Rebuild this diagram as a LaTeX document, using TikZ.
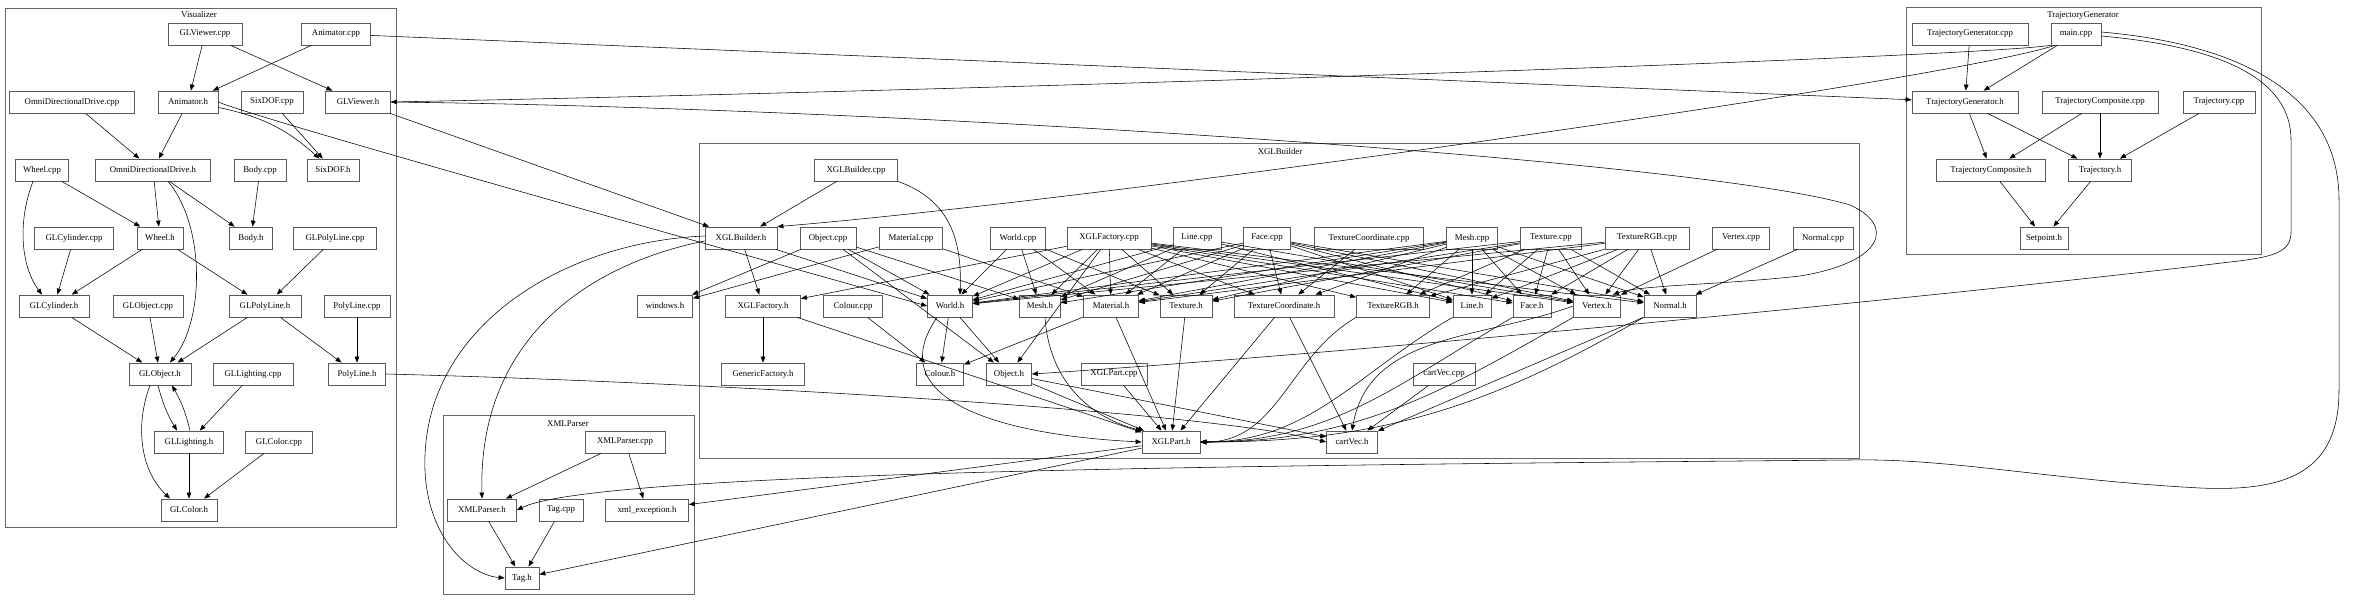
\documentclass[tikz,border=0pt]{standalone}
\usepackage{fontspec}
\setmainfont{Liberation Serif}
\usetikzlibrary{arrows.meta}
\tikzset{
  file/.style={draw=black!65,line width=0.8pt,inner sep=0pt,minimum height=22pt,font=\fontsize{8.8}{10}\selectfont}, % one source file
  dep/.style={-{Triangle[length=6pt,width=4.6pt]},line width=0.55pt,black},                          % include
  grp/.style={draw=black!60,line width=0.8pt},                                                    % directory
  grplabel/.style={font=\fontsize{8.8}{10}\selectfont},
}
\begin{document}
\begin{tikzpicture}[x=1pt,y=-1pt]
  \useasboundingbox (0,0) rectangle (2354,605);
  % directories
  \draw[grp] (5,8) rectangle (396,527);
  \node[grplabel] (vislbl) at (199,15) {Visualizer};
  \draw[grp] (443,415) rectangle (694,594);
  \node[grplabel] (xmllbl) at (568,424) {XMLParser};
  \draw[grp] (699,143) rectangle (1859,458);
  \node[grplabel] (xgllbl) at (1280,151) {XGLBuilder};
  \draw[grp] (1906,7) rectangle (2261,254);
  \node[grplabel] (trjlbl) at (2083,16) {TrajectoryGenerator};

  % Visualizer
  \node[file,minimum width=74pt] (glvcpp) at (205,34) {GLViewer.cpp};
  \node[file,minimum width=69pt] (anicpp) at (336,34) {Animator.cpp};
  \node[file,minimum width=125pt] (oddcpp) at (72,102) {OmniDirectionalDrive.cpp};
  \node[file,minimum width=60pt] (anih) at (188,102) {Animator.h};
  \node[file,minimum width=62pt] (sixcpp) at (272,102) {SixDOF.cpp};
  \node[file,minimum width=65pt] (glvh) at (358,102) {GLViewer.h};
  \node[file,minimum width=53pt] (wheelcpp) at (42,170) {Wheel.cpp};
  \node[file,minimum width=115pt] (oddh) at (153,170) {OmniDirectionalDrive.h};
  \node[file,minimum width=52pt] (bodycpp) at (260,170) {Body.cpp};
  \node[file,minimum width=52pt] (sixh) at (333,170) {SixDOF.h};
  \node[file,minimum width=79pt] (glcylcpp) at (74,238) {GLCylinder.cpp};
  \node[file,minimum width=46pt] (wheelh) at (160,238) {Wheel.h};
  \node[file,minimum width=43pt] (bodyh) at (251,238) {Body.h};
  \node[file,minimum width=83pt] (glplcpp) at (335,238) {GLPolyLine.cpp};
  \node[file,minimum width=70pt] (glcylh) at (54,306) {GLCylinder.h};
  \node[file,minimum width=70pt] (globjcpp) at (148,306) {GLObject.cpp};
  \node[file,minimum width=72pt] (glplh) at (265,306) {GLPolyLine.h};
  \node[file,minimum width=66pt] (plcpp) at (357,306) {PolyLine.cpp};
  \node[file,minimum width=62pt] (globjh) at (160,374) {GLObject.h};
  \node[file,minimum width=80pt] (gllightcpp) at (253,374) {GLLighting.cpp};
  \node[file,minimum width=57pt] (plh) at (357,374) {PolyLine.h};
  \node[file,minimum width=69pt] (gllighth) at (189,442) {GLLighting.h};
  \node[file,minimum width=67pt] (glcolcpp) at (279,442) {GLColor.cpp};
  \node[file,minimum width=56pt] (glcolh) at (189,510) {GLColor.h};

  % XMLParser
  \node[file,minimum width=80pt] (xmlpcpp) at (625,442) {XMLParser.cpp};
  \node[file,minimum width=69pt] (xmlph) at (482,510) {XMLParser.h};
  \node[file,minimum width=44pt] (tagcpp) at (561,510) {Tag.cpp};
  \node[file,minimum width=83pt] (xmlexch) at (647,510) {xml\_exception.h};
  \node[file,minimum width=34pt] (tagh) at (522,578) {Tag.h};

  % XGLBuilder
  \node[file,minimum width=83pt] (xglbcpp) at (856,170) {XGLBuilder.cpp};
  \node[file,minimum width=72pt] (xglbh) at (741,238) {XGLBuilder.h};
  \node[file,minimum width=56pt] (objcpp) at (828,238) {Object.cpp};
  \node[file,minimum width=63pt] (matcpp) at (911,238) {Material.cpp};
  \node[file,minimum width=55pt] (worldcpp) at (1018,238) {World.cpp};
  \node[file,minimum width=84pt] (xglfcpp) at (1109,238) {XGLFactory.cpp};
  \node[file,minimum width=48pt] (linecpp) at (1197,238) {Line.cpp};
  \node[file,minimum width=47pt] (facecpp) at (1267,238) {Face.cpp};
  \node[file,minimum width=109pt] (tccpp) at (1369,238) {TextureCoordinate.cpp};
  \node[file,minimum width=51pt] (meshcpp) at (1472,238) {Mesh.cpp};
  \node[file,minimum width=61pt] (texcpp) at (1551,238) {Texture.cpp};
  \node[file,minimum width=84pt] (trgbcpp) at (1647,238) {TextureRGB.cpp};
  \node[file,minimum width=57pt] (vertcpp) at (1741,238) {Vertex.cpp};
  \node[file,minimum width=60pt] (normcpp) at (1823,238) {Normal.cpp};
  \node[file,minimum width=55pt] (windowsh) at (665,306) {windows.h};
  \node[file,minimum width=75pt] (xglfh) at (763,306) {XGLFactory.h};
  \node[file,minimum width=59pt] (colcpp) at (853,306) {Colour.cpp};
  \node[file,minimum width=45pt] (worldh) at (950,306) {World.h};
  \node[file,minimum width=41pt] (meshh) at (1040,306) {Mesh.h};
  \node[file,minimum width=55pt] (math) at (1111,306) {Material.h};
  \node[file,minimum width=52pt] (texh) at (1186,306) {Texture.h};
  \node[file,minimum width=100pt] (tcoordh) at (1284,306) {TextureCoordinate.h};
  \node[file,minimum width=73pt] (trgbh) at (1393,306) {TextureRGB.h};
  \node[file,minimum width=38pt] (lineh) at (1472,306) {Line.h};
  \node[file,minimum width=38pt] (faceh) at (1532,306) {Face.h};
  \node[file,minimum width=47pt] (verth) at (1597,306) {Vertex.h};
  \node[file,minimum width=52pt] (normh) at (1670,306) {Normal.h};
  \node[file,minimum width=83pt] (genfh) at (763,374) {GenericFactory.h};
  \node[file,minimum width=47pt] (colh) at (940,374) {Colour.h};
  \node[file,minimum width=45pt] (objh) at (1009,374) {Object.h};
  \node[file,minimum width=66pt] (xglpcpp) at (1114,374) {XGLPart.cpp};
  \node[file,minimum width=62pt] (cvcpp) at (1444,374) {cartVec.cpp};
  \node[file,minimum width=58pt] (xglph) at (1171,442) {XGLPart.h};
  \node[file,minimum width=51pt] (cvh) at (1352,442) {cartVec.h};

  % TrajectoryGenerator
  \node[file,minimum width=116pt] (tgcpp) at (1970,34) {TrajectoryGenerator.cpp};
  \node[file,minimum width=50pt] (mainc) at (2076,34) {main.cpp};
  \node[file,minimum width=106pt] (tgh) at (1965,102) {TrajectoryGenerator.h};
  \node[file,minimum width=116pt] (trajcompcpp) at (2100,102) {TrajectoryComposite.cpp};
  \node[file,minimum width=72pt] (trajcpp) at (2219,102) {Trajectory.cpp};
  \node[file,minimum width=109pt] (trajcomph) at (1991,170) {TrajectoryComposite.h};
  \node[file,minimum width=63pt] (trajh) at (2100,170) {Trajectory.h};
  \node[file,minimum width=48pt] (setph) at (2044,238) {Setpoint.h};

  % includes inside Visualizer
  \draw[dep] (glvcpp) -- (anih);
  \draw[dep] (glvcpp) -- (glvh);
  \draw[dep] (anicpp) -- (anih);
  \draw[dep] (oddcpp) -- (oddh);
  \draw[dep] (anih) -- (oddh);
  \draw[dep] (anih) to[bend left=15] (sixh);
  \draw[dep] (sixcpp) -- (sixh);
  \draw[dep] (wheelcpp) -- (wheelh);
  \draw[dep] ([xshift=-9pt]wheelcpp.south) .. controls (18,220) and (20,265) .. ([xshift=-12pt]glcylh.north);
  \draw[dep] (oddh) -- (wheelh);
  \draw[dep] (oddh) -- (bodyh);
  \draw[dep] ([xshift=15pt]oddh.south) .. controls (205,225) and (205,320) .. ([xshift=10pt]globjh.north);
  \draw[dep] (bodycpp) -- (bodyh);
  \draw[dep] (glcylcpp) -- (glcylh);
  \draw[dep] (wheelh) -- (glcylh);
  \draw[dep] (wheelh) -- (glplh);
  \draw[dep] (glplcpp) -- (glplh);
  \draw[dep] (glcylh) -- (globjh);
  \draw[dep] (globjcpp) -- (globjh);
  \draw[dep] (glplh) -- (globjh);
  \draw[dep] (glplh) -- (plh);
  \draw[dep] (plcpp) -- (plh);
  \draw[dep] ([xshift=-2pt]globjh.south) to[bend right=8] ([xshift=-12pt]gllighth.north);
  \draw[dep] ([xshift=1pt]gllighth.north) to[bend right=8] ([xshift=12pt]globjh.south);
  \draw[dep] ([xshift=-10pt]globjh.south) .. controls (135,425) and (140,470) .. ([xshift=-19pt]glcolh.north);
  \draw[dep] (gllightcpp) -- (gllighth);
  \draw[dep] (gllighth) -- (glcolh);
  \draw[dep] (glcolcpp) -- (glcolh);

  % includes inside XMLParser
  \draw[dep] (xmlpcpp) -- (xmlph);
  \draw[dep] (xmlpcpp) -- (xmlexch);
  \draw[dep] (xmlph) -- (tagh);
  \draw[dep] (tagcpp) -- (tagh);

  % includes inside TrajectoryGenerator
  \draw[dep] (tgcpp) -- (tgh);
  \draw[dep] (mainc) -- (tgh);
  \draw[dep] (tgh) -- (trajcomph);
  \draw[dep] (tgh) -- (trajh);
  \draw[dep] (trajcompcpp) -- (trajcomph);
  \draw[dep] (trajcompcpp) -- (trajh);
  \draw[dep] (trajcpp) -- (trajh);
  \draw[dep] (trajcomph) -- (setph);
  \draw[dep] (trajh) -- (setph);

  % includes inside XGLBuilder
  \draw[dep] (xglbcpp) -- (xglbh);
  \draw[dep] (xglbcpp.south east) .. controls (950,200) and (962,240) .. ([xshift=10pt]worldh.north);
  \draw[dep] (xglbh) -- (xglfh);
  \draw[dep] (xglbh) -- (worldh);
  \foreach \t in {objh,worldh,meshh,windowsh}
    \draw[dep] (objcpp) -- (\t);
  \foreach \t in {math,windowsh}
    \draw[dep] (matcpp) -- (\t);
  \foreach \t in {worldh,meshh,math,texh}
    \draw[dep] (worldcpp) -- (\t);
  \foreach \t in {xglfh,worldh,meshh,math,texh,tcoordh,trgbh,lineh,faceh,verth,normh,objh}
    \draw[dep] (xglfcpp) -- (\t);
  \foreach \t in {lineh,worldh,meshh,math,verth}
    \draw[dep] (linecpp) -- (\t);
  \foreach \t in {faceh,worldh,meshh,math,texh,tcoordh,verth,normh,lineh}
    \draw[dep] (facecpp) -- (\t);
  \draw[dep] (tccpp) -- (tcoordh);
  \foreach \t in {meshh,worldh,math,texh,trgbh,lineh,faceh,verth,normh,tcoordh}
    \draw[dep] (meshcpp) -- (\t);
  \foreach \t in {texh,worldh,math,trgbh,lineh,faceh,verth,normh}
    \draw[dep] (texcpp) -- (\t);
  \foreach \t in {trgbh,worldh,math,lineh,faceh,verth,normh}
    \draw[dep] (trgbcpp) -- (\t);
  \draw[dep] (vertcpp) -- (verth);
  \draw[dep] (normcpp) -- (normh);
  \draw[dep] (colcpp) -- (colh);
  \draw[dep] (xglpcpp) -- (xglph);
  \draw[dep] (cvcpp) -- (cvh);
  \draw[dep] (worldh) -- (colh);
  \draw[dep] (worldh) -- (objh);
  \draw[dep] ([xshift=-13pt]worldh.south) .. controls (880,400) and (1000,435) .. (xglph.west);
  \draw[dep] (math) -- (colh);
  \draw[dep] (math) -- (xglph);
  \draw[dep] ([xshift=5pt]meshh.south) .. controls (1050,390) and (1100,420) .. (xglph.north west);
  \draw[dep] (objh) -- (xglph);
  \draw[dep] (objh) -- (cvh);
  \draw[dep] (xglfh) -- (genfh);
  \draw[dep] (xglfh) -- (xglph);
  \draw[dep] (texh) -- (xglph);
  \draw[dep] (tcoordh) -- (xglph);
  \draw[dep] (tcoordh) -- (cvh);
  \foreach \s in {trgbh,lineh,faceh,verth,normh}
    \draw[dep] (\s.south west) to[out=-150,in=0] (xglph.east);
  \draw[dep] (verth.west) to[out=200,in=80] (cvh.north);
  \draw[dep] (normh) -- (cvh);

  % includes across directories
  \draw[dep] (anicpp) -- (tgh);
  \draw[dep] (mainc.south west) .. controls (1960,58) and (1000,90) .. (glvh.east);
  \draw[dep] ([xshift=4pt]mainc.south west) .. controls (1950,80) and (1100,200) .. (xglbh.north east);
  \draw[dep] (glvh) -- (xglbh);
  \draw[dep] (anih.east) .. controls (260,120) and (800,270) .. (worldh.west);
  \draw[dep] (glvh.east) .. controls (900,108) and (1700,160) .. (1850,205)
    .. controls (1895,225) and (1885,262) .. (1800,276)
    .. controls (1720,285) and (1640,285) .. ([xshift=-8pt]verth.north east);
  \draw[dep] ([yshift=-2pt]mainc.east) .. controls (2200,45) and (2291,70) .. (2291,140) -- (2291,232)
    .. controls (2291,252) and (2275,257) .. (2230,262)
    .. controls (2000,290) and (1400,350) .. (objh.east);
  \draw[dep] ([yshift=2pt]mainc.east) .. controls (2250,45) and (2339,100) .. (2339,200) -- (2339,390)
    .. controls (2339,470) and (2290,492) .. (2200,488)
    .. controls (2050,480) and (1950,458) .. (1850,460)
    .. controls (1300,465) and (600,470) .. (xmlph.east);
  \draw[dep] (plh.east) .. controls (700,382) and (1200,410) .. (cvh.west);
  \draw[dep] ([yshift=2pt]xglbh.west) .. controls (560,242) and (420,330) .. (425,470)
    .. controls (428,540) and (470,575) .. (tagh.west);
  \draw[dep] ([yshift=-3pt]xglbh.west) .. controls (600,262) and (478,330) .. (xmlph.north);
  \draw[dep] (xglph) -- (xmlexch);
  \draw[dep] (xglph) -- (tagh);
\end{tikzpicture}
\end{document}
